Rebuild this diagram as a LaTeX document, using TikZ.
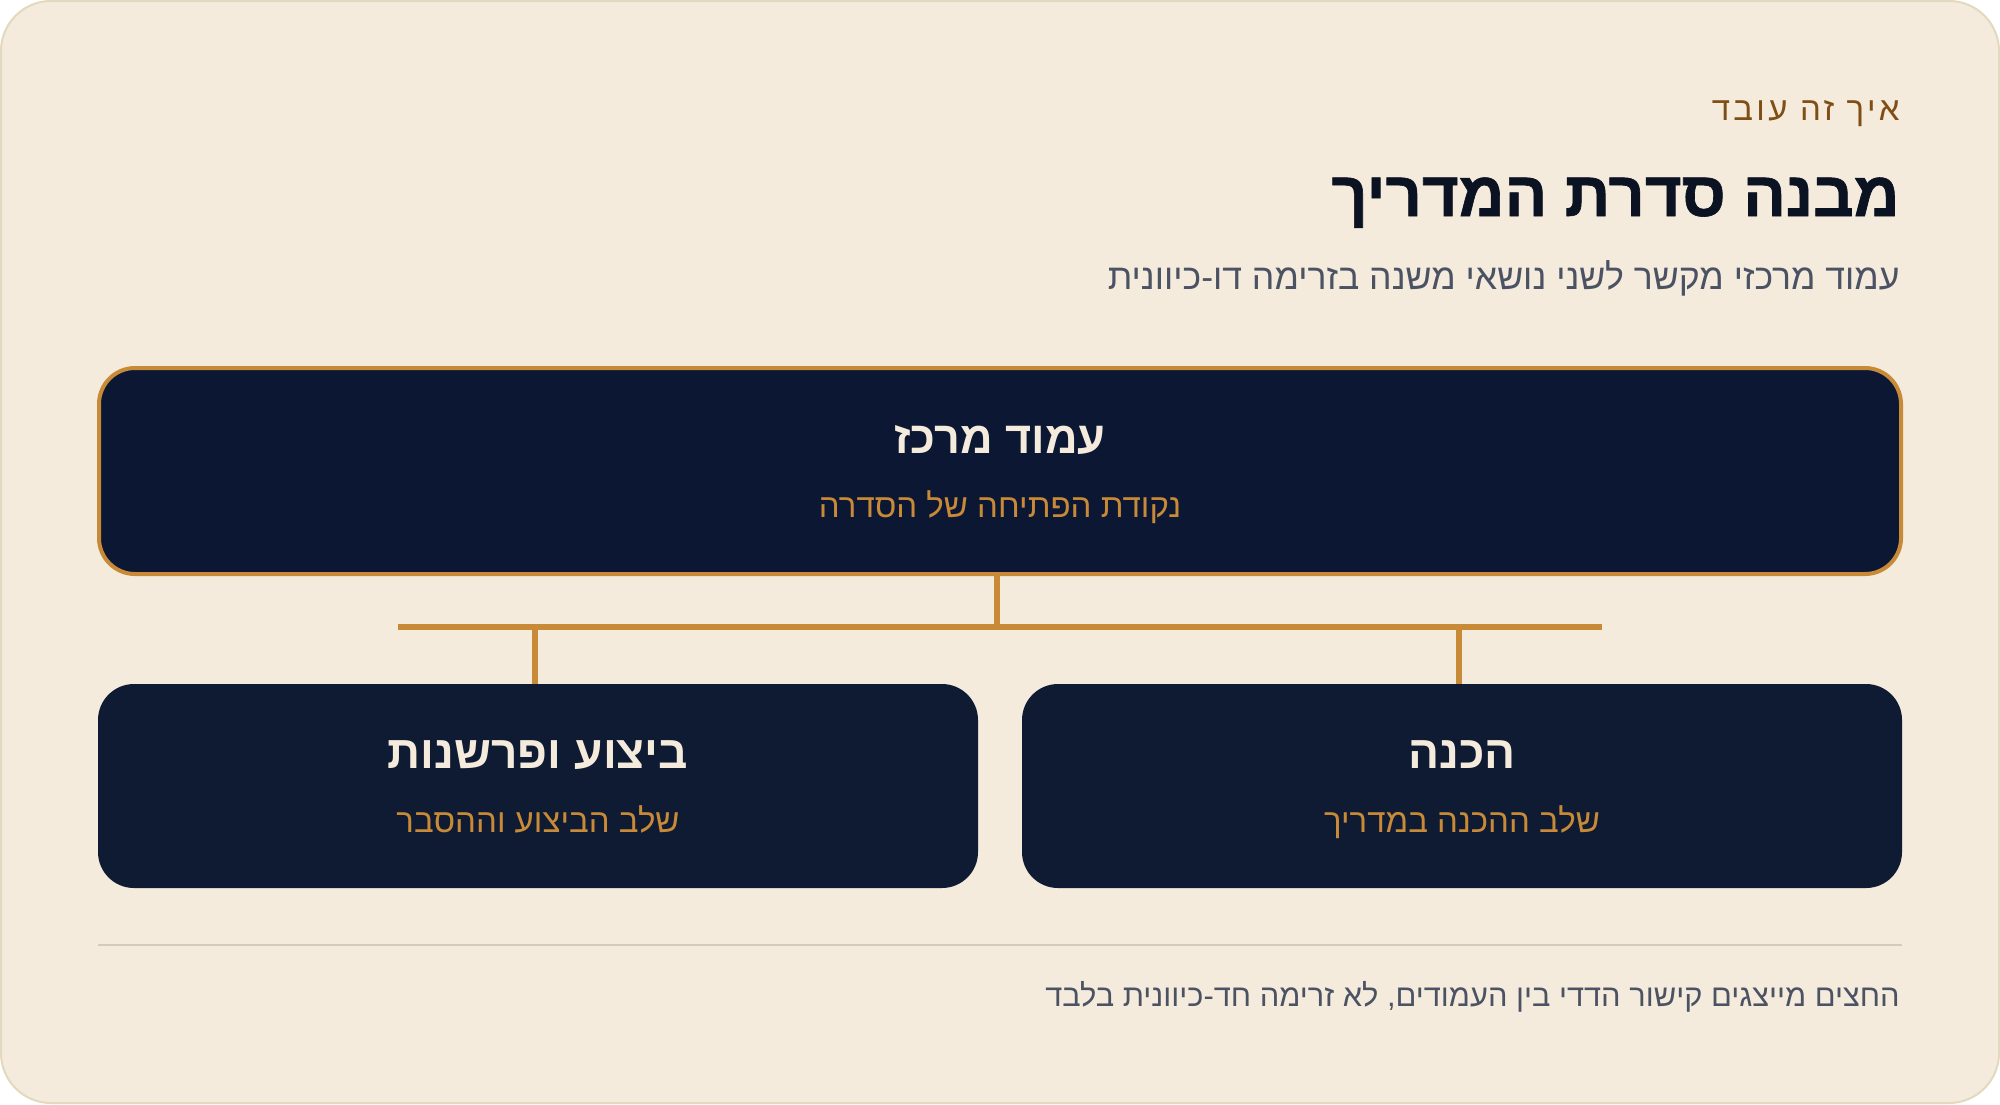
\documentclass[tikz,border=0pt]{standalone}
\usepackage{fontspec}
\usetikzlibrary{positioning, calc}
\TeXXeTstate=1
\newfontfamily\hebfont[Script=Hebrew]{Liberation Sans}
\newfontfamily\hebheavy[Script=Hebrew,FakeBold=1]{Liberation Sans Bold}
\newfontfamily\hebspaced[Script=Hebrew,LetterSpace=10]{Liberation Sans}
\definecolor{paper}{HTML}{F4EBDC}
\definecolor{paperedge}{HTML}{E4D9BE}
\definecolor{ink}{HTML}{0B1222}
\definecolor{slate}{HTML}{4B5263}
\definecolor{bronze}{HTML}{7F4E14}
\definecolor{navy}{HTML}{0B1733}
\definecolor{navylight}{HTML}{0F1B33}
\definecolor{gold}{HTML}{C98A38}
\definecolor{cream}{HTML}{F4EBDC}
\definecolor{rule}{HTML}{D4CBBB}
\newcommand{\hebsize}[1]{\hebfont\fontsize{#1}{#1}\selectfont}
\newcommand{\hebbold}[1]{\hebfont\bfseries\fontsize{#1}{#1}\selectfont}
\tikzset{pillar/.style={draw=gold, line width=2pt, fill=navy, rounded corners=18pt,
  minimum width=901pt, minimum height=103pt, inner sep=0pt, outer sep=0pt}}
\tikzset{topic/.style={fill=navylight, rounded corners=18pt,
  minimum width=440pt, minimum height=102pt, inner sep=0pt, outer sep=0pt}}
\tikzset{headtext/.style={text=cream, anchor=base, inner sep=0pt}}
\tikzset{subtext/.style={text=gold, anchor=base, inner sep=0pt}}
\tikzset{rtltext/.style={anchor=base east, inner sep=0pt}}

\begin{document}
\begin{tikzpicture}[x=0.5pt, y=-0.5pt]
  % Card
  \draw[draw=paperedge, line width=1pt, fill=paper, rounded corners=25pt]
    (1,1) rectangle (1999,1103);
  \useasboundingbox (0,0) rectangle (2000,1104);
  % Heading
  \node[rtltext, text=bronze] (kicker) at (1900,120)
    {\hebspaced\fontsize{16.5}{16.5}\selectfont\beginR איך זה עובד\endR};
  \node[rtltext, text=ink] (title) at (1900,216)
    {\hebheavy\fontsize{31.6}{31.6}\selectfont\beginR מבנה סדרת המדריך\endR};
  \node[rtltext, text=slate] (lead) at (1900,289)
    {\hebsize{17.8}\beginR עמוד מרכזי מקשר לשני נושאי משנה בזרימה דו-כיוונית\endR};
  %Nodes
  \node[pillar] (hub) at (1000,471) {};
  \node[topic] (prep) at (1462,786) {};
  \node[topic] (exec) at (538,786) {};
  \node[headtext] (hubname) at (1000,453) {\hebbold{22.5}\beginR עמוד מרכז\endR};
  \node[subtext] (hubnote) at (1000,517) {\hebsize{16.5}\beginR נקודת הפתיחה של הסדרה\endR};
  \node[headtext] (prepname) at (1462,768) {\hebbold{23}\beginR הכנה\endR};
  \node[subtext] (prepnote) at (1462,832) {\hebsize{16.5}\beginR שלב ההכנה במדריך\endR};
  \node[headtext] (execname) at (538,768) {\hebbold{23}\beginR ביצוע ופרשנות\endR};
  \node[subtext] (execnote) at (538,832) {\hebsize{16.5}\beginR שלב הביצוע וההסבר\endR};
  % Edges
  \coordinate (fork) at (997,627);
  \coordinate (busL) at (398,627);
  \coordinate (busR) at (1602,627);
  \coordinate (prepdrop) at (1459,627);
  \coordinate (execdrop) at (535,627);
  \begin{scope}[every path/.style={draw=gold, line width=3pt}]
    \draw (hub.south -| fork) -- (fork);
    \draw (busL) -- (busR);
    \draw (prepdrop) -- (prepdrop |- prep.north);
    \draw (execdrop) -- (execdrop |- exec.north);
  \end{scope}
  % Footer
  \coordinate (ruleL) at (98,945);
  \coordinate (ruleR) at (1902,945);
  \draw[draw=rule, line width=1pt] (ruleL) -- (ruleR);
  \node[rtltext, text=slate] (footnote) at (1900,1006)
    {\hebsize{15.4}\beginR החצים מייצגים קישור הדדי בין העמודים, לא זרימה חד-כיוונית בלבד\endR};
\end{tikzpicture}
\end{document}
